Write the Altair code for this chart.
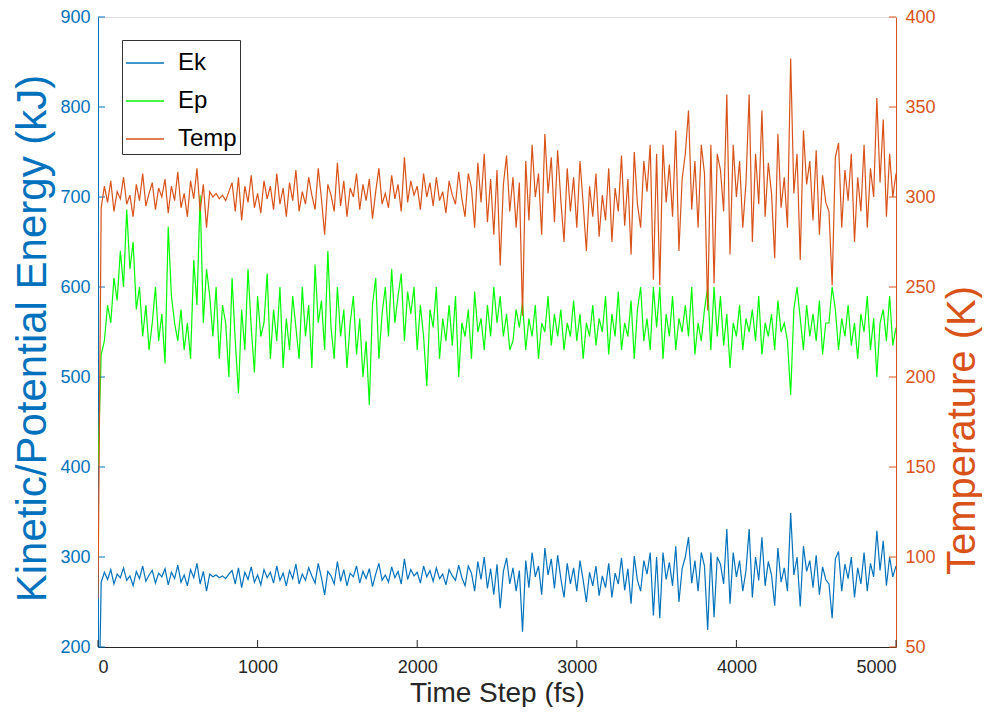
import altair as alt
import pandas as pd

# ---------------- data ----------------
time_fs = list(range(0, 5001, 20))

ek = [
    71, 272, 283, 275, 286, 270, 281, 277, 288, 274, 279, 268, 284, 276, 290,
    273, 280, 285, 271, 282, 278, 287, 269, 283, 276, 291, 272, 280, 268, 286,
    277, 293, 270, 284, 262, 281, 278, 280, 277, 279, 276, 281, 285, 270, 288,
    266, 283, 275, 289, 272, 280, 269, 286, 277, 283, 271, 290, 274, 282, 268,
    285, 276, 292, 270, 281, 274, 288, 279, 271, 293, 277, 258, 284, 279, 270,
    295, 273, 286, 268, 282, 278, 290, 271, 284, 276, 287, 267, 281, 293, 274,
    280, 272, 289, 277, 284, 270, 298, 275, 286, 279, 283, 271, 290, 278, 285,
    273, 288, 276, 281, 269, 286, 279, 274, 291, 277, 268, 290, 282, 262, 295,
    275, 300, 265, 287, 258, 292, 243, 284, 299, 270, 288, 262, 285, 217, 296,
    266, 305, 278, 290, 258, 310, 280, 298, 265, 302, 276, 255, 293, 270, 288,
    262, 296, 274, 250, 283, 268, 290, 257, 279, 266, 293, 255, 282, 270, 299,
    263, 287, 248, 301, 274, 262, 296, 281, 305, 235, 300, 232, 305, 275, 294,
    268, 312, 250, 287, 300, 322, 271, 296, 262, 305, 290, 219, 305, 233, 300,
    292, 270, 331, 248, 305, 278, 296, 262, 285, 331, 255, 300, 274, 322, 268,
    295, 280, 246, 310, 272, 288, 262, 349, 280, 300, 245, 312, 284, 296, 266,
    302, 258, 289, 275, 270, 232, 298, 306, 262, 292, 276, 300, 255, 288, 270,
    305, 262, 293, 278, 329, 285, 318, 268, 300, 278, 290,
]

ep = [
    400, 525, 540, 580, 560, 610, 585, 640, 600, 686, 620, 650, 575, 600, 545,
    580, 530, 560, 600, 540, 570, 515, 667, 590, 560, 540, 575, 530, 560, 520,
    630, 580, 702, 560, 620, 590, 545, 600, 520, 580, 560, 500, 610, 540, 482,
    575, 530, 620, 555, 505, 590, 545, 560, 615, 520, 575, 540, 600, 510, 565,
    530, 590, 555, 520, 600, 545, 580, 510, 625, 560, 585, 530, 640, 555, 520,
    600, 545, 575, 510, 560, 590, 525, 565, 500, 540, 469, 580, 610, 520, 570,
    600, 545, 620, 560, 590, 615, 540, 595, 570, 600, 530, 580, 545, 490, 575,
    555, 600, 520, 565, 540, 580, 535, 590, 500, 560, 545, 575, 520, 595, 550,
    565, 530, 580, 545, 600, 560, 590, 545, 570, 530, 540, 575, 555, 583, 530,
    565, 545, 580, 520, 560, 550, 590, 535, 570, 545, 575, 530, 560, 545, 585,
    540, 570, 520, 560, 545, 580, 535, 565, 550, 590, 525, 570, 545, 595, 530,
    560, 545, 585, 520, 575, 600, 540, 565, 530, 600, 555, 600, 520, 570, 545,
    590, 530, 565, 550, 580, 545, 600, 525, 560, 540, 575, 600, 530, 600, 545,
    590, 535, 570, 510, 560, 545, 580, 530, 565, 550, 575, 540, 590, 525, 560,
    545, 570, 530, 585, 550, 560, 540, 480, 575, 600, 565, 530, 580, 545, 570,
    540, 585, 525, 560, 560, 600, 575, 530, 565, 545, 580, 535, 560, 520, 570,
    550, 590, 530, 565, 500, 560, 575, 540, 590, 535, 555,
]

temp = [
    77, 294, 306, 297, 309, 292, 303, 299, 311, 296, 301, 289, 307, 298, 313,
    295, 302, 308, 293, 305, 300, 310, 291, 306, 298, 314, 294, 302, 289, 309,
    299, 316, 292, 307, 283, 303, 300, 302, 299, 301, 298, 303, 308, 292, 311,
    287, 306, 297, 312, 294, 302, 291, 309, 299, 306, 293, 313, 296, 305, 289,
    308, 298, 315, 292, 303, 296, 311, 301, 293, 316, 299, 279, 307, 301, 292,
    319, 295, 309, 289, 305, 300, 313, 293, 307, 298, 310, 288, 303, 316, 296,
    302, 294, 312, 299, 307, 292, 322, 297, 309, 301, 306, 293, 313, 300, 308,
    295, 311, 298, 303, 291, 309, 301, 296, 314, 299, 289, 313, 305, 283, 319,
    297, 324, 286, 310, 279, 315, 262, 307, 323, 292, 311, 283, 308, 234, 320,
    287, 329, 300, 313, 279, 335, 302, 322, 286, 326, 298, 275, 316, 292, 311,
    283, 320, 296, 270, 306, 289, 313, 278, 301, 287, 316, 275, 305, 292, 323,
    284, 310, 268, 325, 296, 283, 320, 303, 329, 254, 324, 251, 329, 297, 318,
    289, 337, 270, 310, 324, 348, 293, 320, 283, 329, 313, 237, 329, 252, 324,
    315, 292, 357, 268, 329, 300, 320, 283, 308, 357, 275, 324, 296, 348, 289,
    319, 302, 266, 335, 294, 311, 283, 377, 302, 324, 265, 337, 307, 320, 287,
    326, 279, 312, 297, 292, 251, 322, 330, 283, 315, 298, 324, 275, 311, 292,
    329, 283, 316, 300, 355, 308, 343, 289, 324, 300, 313,
]

series_names = ["Ek", "Ep", "Temp"]
series_colors = ["#0072BD", "#00FF00", "#D95319"]

x_ticks = [0, 1000, 2000, 3000, 4000, 5000]
left_ticks = [200, 300, 400, 500, 600, 700, 800, 900]
right_ticks = [50, 100, 150, 200, 250, 300, 350, 400]

# ---------------- tables ----------------
n = len(time_fs)
df = pd.DataFrame({
    "t": time_fs * 3,
    "series": ["Ek"] * n + ["Ep"] * n + ["Temp"] * n,
    "value": ek + ep + temp,
})
xt_df = pd.DataFrame({"v": x_ticks})
lt_df = pd.DataFrame({"v": left_ticks})
rt_df = pd.DataFrame({"v": right_ticks})

W, H = 798, 630
FONT = "Liberation Sans, Helvetica, Arial, sans-serif"
BLUE, ORANGE, DARK = "#0072BD", "#D95319", "#262626"

x_scale = alt.Scale(domain=[0, 5000], nice=False, zero=False)
x_axis = alt.Axis(
    values=x_ticks, format="d", title="Time Step (fs)", grid=False, tickSize=0,
    labelPadding=11, labelFontSize=18, labelFont=FONT, labelColor=DARK,
    domainColor=DARK, domainWidth=1,
    titleFont=FONT, titleFontSize=28, titleFontWeight="normal", titleColor=DARK,
    titleBaseline="middle", titleY=46, titleX=W / 2,
)

yl_scale = alt.Scale(domain=[200, 900], nice=False, zero=False)
yl_axis = alt.Axis(
    orient="left", values=left_ticks, title="Kinetic/Potential Energy (kJ)",
    grid=False, tickSize=0, labelPadding=8, labelFontSize=18, labelFont=FONT,
    labelColor=BLUE, domainColor=BLUE, domainWidth=1,
    titleFont=FONT, titleFontSize=42, titleFontWeight="normal", titleColor=BLUE,
    titleBaseline="middle", titleX=-66, titleY=321, titleAngle=270,
)

yr_scale = alt.Scale(domain=[50, 400], nice=False, zero=False)
yr_axis = alt.Axis(
    orient="right", values=right_ticks, title="Temperature (K)",
    grid=False, tickSize=0, labelPadding=9, labelFontSize=18, labelFont=FONT,
    labelColor=ORANGE, domainColor=ORANGE, domainWidth=1,
    titleFont=FONT, titleFontSize=40, titleFontWeight="normal", titleColor=ORANGE,
    titleBaseline="middle", titleX=66, titleY=413, titleAngle=270,
)

color = alt.Color(
    "series:N",
    scale=alt.Scale(domain=series_names, range=series_colors),
    legend=alt.Legend(
        title=None, orient="none", legendX=24, legendY=23,
        fillColor="white", strokeColor="#333333", padding=3,
        symbolType="stroke", symbolSize=1444, symbolStrokeWidth=1.5,
        labelFontSize=24, labelFont=FONT, labelColor="black",
        rowPadding=6, labelOffset=13,
    ),
)

left_lines = alt.Chart(df).transform_filter(
    "datum.series != 'Temp'"
).mark_line(strokeWidth=1.2, clip=True).encode(
    x=alt.X("t:Q", scale=x_scale, axis=x_axis),
    y=alt.Y("value:Q", scale=yl_scale, axis=yl_axis),
    color=color,
)

x_tick_rules = alt.Chart(xt_df).mark_rule(color=DARK, strokeWidth=1).encode(
    x=alt.X("v:Q", scale=x_scale, axis=x_axis),
    y=alt.value(H), y2=alt.value(H - 7),
)

left_tick_rules = alt.Chart(lt_df).mark_rule(color=BLUE, strokeWidth=1).encode(
    y=alt.Y("v:Q", scale=yl_scale, axis=yl_axis),
    x=alt.value(0), x2=alt.value(7),
)

right_line = alt.Chart(df).transform_filter(
    "datum.series == 'Temp'"
).mark_line(strokeWidth=1.2, clip=True).encode(
    x=alt.X("t:Q", scale=x_scale, axis=x_axis),
    y=alt.Y("value:Q", scale=yr_scale, axis=yr_axis),
    color=color,
)

right_tick_rules = alt.Chart(rt_df).mark_rule(color=ORANGE, strokeWidth=1).encode(
    y=alt.Y("v:Q", scale=yr_scale, axis=yr_axis),
    x=alt.value(W - 7), x2=alt.value(W),
)

left_group = alt.layer(left_lines, left_tick_rules, x_tick_rules)
right_group = alt.layer(right_line, right_tick_rules)

chart = alt.layer(left_group, right_group).resolve_scale(
    y="independent"
).properties(
    width=W, height=H,
    autosize=alt.AutoSizeParams(type="none"),
    padding={"left": 90, "top": 9, "right": 86, "bottom": 60},
).configure_view(stroke=None).configure(background="white")

chart.save("out.html", embed_options={"renderer": "svg", "actions": False})
